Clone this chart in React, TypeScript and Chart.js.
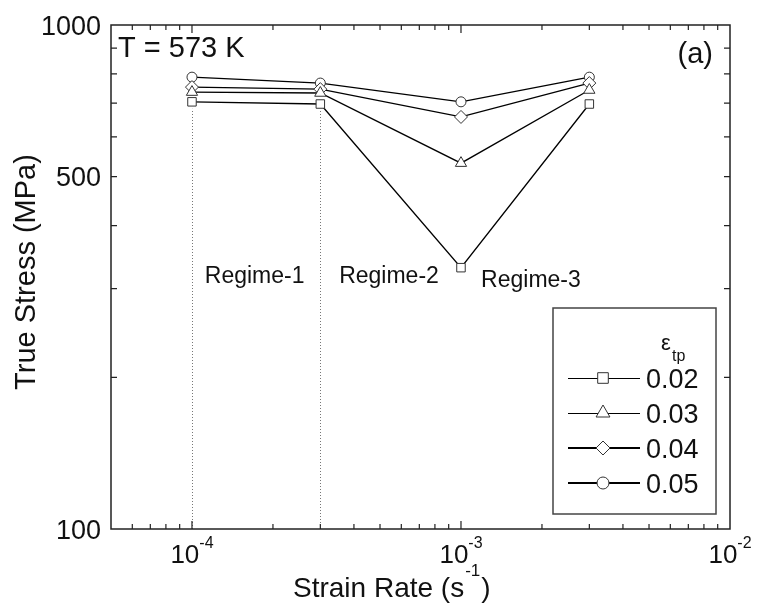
import React, { useEffect, useRef } from 'react';
import { Chart, registerables } from 'chart.js';

Chart.register(...registerables);

const strainRates = [1e-4, 3e-4, 1e-3, 3e-3];
const stress002 = [704, 697, 330, 697];
const stress003 = [736, 733, 532, 743];
const stress004 = [753, 746, 657, 767];
const stress005 = [788, 767, 704, 788];
const seriesLabels = ['0.02', '0.03', '0.04', '0.05'];
const seriesStyles = ['rect', 'triangle', 'rectRot', 'circle'];
const seriesRadii = [6, 6.5, 6.5, 5];
const xMajorExponents = [-4, -3, -2];
const yTickLabels = [100, 500, 1000];
const regimeBoundaries = [1e-4, 3e-4];
const regimeLabels = ['Regime-1', 'Regime-2', 'Regime-3'];
const regimeAnchors = [1.71e-4, 5.4e-4, 1.82e-3];
const regimeLevels = [283, 283, 287];

const FF = '"Liberation Sans", Arial, Helvetica, sans-serif';

function drawMarker(ctx: CanvasRenderingContext2D, style: string, x: number, y: number, r: number) {
  ctx.beginPath();
  if (style === 'rect') {
    const s = Math.SQRT1_2 * r;
    ctx.rect(x - s, y - s, 2 * s, 2 * s);
  } else if (style === 'triangle') {
    let rad = 0;
    ctx.moveTo(x + Math.sin(rad) * r, y - Math.cos(rad) * r);
    rad += (2 * Math.PI) / 3;
    ctx.lineTo(x + Math.sin(rad) * r, y - Math.cos(rad) * r);
    rad += (2 * Math.PI) / 3;
    ctx.lineTo(x + Math.sin(rad) * r, y - Math.cos(rad) * r);
    ctx.closePath();
  } else if (style === 'rectRot') {
    ctx.moveTo(x - r, y);
    ctx.lineTo(x, y - r);
    ctx.lineTo(x + r, y);
    ctx.lineTo(x, y + r);
    ctx.closePath();
  } else {
    ctx.arc(x, y, r, 0, Math.PI * 2);
  }
  ctx.fillStyle = '#fff';
  ctx.fill();
  ctx.strokeStyle = '#333';
  ctx.lineWidth = 1;
  ctx.stroke();
}

const decorPlugin = {
  id: 'decor',
  beforeDatasetsDraw(chart: any) {
    const ctx = chart.ctx as CanvasRenderingContext2D;
    const xs = chart.scales.x;
    const ys = chart.scales.y;
    const area = chart.chartArea;
    ctx.save();
    ctx.strokeStyle = '#777';
    ctx.lineWidth = 1;
    ctx.setLineDash([1, 2]);
    regimeBoundaries.forEach((v) => {
      const i = strainRates.indexOf(v);
      const px = Math.round(xs.getPixelForValue(v)) + 0.5;
      const top = ys.getPixelForValue(stress002[i]) + 7;
      ctx.beginPath();
      ctx.moveTo(px, area.bottom);
      ctx.lineTo(px, top);
      ctx.stroke();
    });
    ctx.restore();
  },
  afterDraw(chart: any) {
    const ctx = chart.ctx as CanvasRenderingContext2D;
    const xs = chart.scales.x;
    const ys = chart.scales.y;
    const a = chart.chartArea;
    ctx.save();

    // frame
    ctx.strokeStyle = '#222';
    ctx.lineWidth = 1.5;
    ctx.strokeRect(a.left, a.top, a.right - a.left, a.bottom - a.top);

    // x ticks (inside, top & bottom)
    ctx.lineWidth = 1.2;
    for (let e = -5; e <= -2; e++) {
      for (let k = 1; k <= 9; k++) {
        const v = k * Math.pow(10, e);
        if (v <= 5.01e-5 || v >= 0.99e-2) continue;
        const px = xs.getPixelForValue(v);
        const len = k === 1 ? 8 : 5;
        ctx.beginPath();
        ctx.moveTo(px, a.bottom);
        ctx.lineTo(px, a.bottom - len);
        ctx.moveTo(px, a.top);
        ctx.lineTo(px, a.top + len);
        ctx.stroke();
      }
    }
    // y ticks (inside, left & right)
    for (let k = 2; k <= 9; k++) {
      const v = k * 100;
      const py = ys.getPixelForValue(v);
      const len = 6;
      ctx.beginPath();
      ctx.moveTo(a.left, py);
      ctx.lineTo(a.left + len, py);
      ctx.moveTo(a.right, py);
      ctx.lineTo(a.right - len, py);
      ctx.stroke();
    }

    ctx.fillStyle = '#111';
    // y tick labels
    ctx.font = `27px ${FF}`;
    ctx.textAlign = 'right';
    ctx.textBaseline = 'alphabetic';
    yTickLabels.forEach((v) => {
      const py = ys.getPixelForValue(v);
      ctx.fillText(String(v), a.left - 10, py + 9.5);
    });

    // x tick labels with superscripts
    xMajorExponents.forEach((e) => {
      const px = xs.getPixelForValue(Math.pow(10, e));
      ctx.font = `26px ${FF}`;
      const w1 = ctx.measureText('10').width;
      ctx.font = `16px ${FF}`;
      const sup = String(e);
      const w2 = ctx.measureText(sup).width;
      const start = px - (w1 + w2) / 2;
      ctx.textAlign = 'left';
      ctx.font = `26px ${FF}`;
      ctx.fillText('10', start, a.bottom + 34);
      ctx.font = `16px ${FF}`;
      ctx.fillText(sup, start + w1, a.bottom + 19);
    });

    // x title
    ctx.textAlign = 'left';
    ctx.font = `28px ${FF}`;
    const t1 = 'Strain Rate (s';
    let cx = 293;
    ctx.fillText(t1, cx, 597);
    cx += ctx.measureText(t1).width + 1;
    ctx.font = `17px ${FF}`;
    ctx.fillText('-1', cx, 576);
    cx += ctx.measureText('-1').width + 1;
    ctx.font = `28px ${FF}`;
    ctx.fillText(')', cx, 597);

    // y title
    ctx.save();
    ctx.translate(27, 272);
    ctx.rotate(-Math.PI / 2);
    ctx.textAlign = 'center';
    ctx.textBaseline = 'middle';
    ctx.font = `29px ${FF}`;
    ctx.fillText('True Stress (MPa)', 0, 0);
    ctx.restore();

    // annotations
    ctx.textBaseline = 'alphabetic';
    ctx.font = `29px ${FF}`;
    ctx.textAlign = 'left';
    ctx.fillText('T = 573 K', a.left + 7, 57);
    ctx.textAlign = 'right';
    ctx.fillText('(a)', a.right - 17, 63);

    ctx.font = `23px ${FF}`;
    ctx.textAlign = 'center';
    regimeLabels.forEach((t, i) => {
      ctx.fillText(t, xs.getPixelForValue(regimeAnchors[i]), regimeLevels[i]);
    });

    // legend
    const lx = 553, ly = 308, lw = 163, lh = 206;
    ctx.strokeStyle = '#444';
    ctx.lineWidth = 1.5;
    ctx.strokeRect(lx, ly, lw, lh);
    ctx.textAlign = 'left';
    ctx.font = `22px ${FF}`;
    ctx.fillText('\u03B5', 661, 350);
    ctx.font = `16px ${FF}`;
    ctx.fillText('tp', 672, 361);
    const rows = [378, 413, 448, 483];
    const legendR = [7.5, 8, 7, 6];
    seriesLabels.forEach((lab, i) => {
      const y = Math.round(rows[i]) + 0.5;
      ctx.strokeStyle = '#000';
      ctx.lineWidth = i < 2 ? 1 : 2;
      ctx.beginPath();
      ctx.moveTo(568, i < 2 ? y : rows[i]);
      ctx.lineTo(640, i < 2 ? y : rows[i]);
      ctx.stroke();
      drawMarker(ctx, seriesStyles[i], 603, rows[i], legendR[i]);
      ctx.fillStyle = '#111';
      ctx.font = `27px ${FF}`;
      ctx.fillText(lab, 646, rows[i] + 10);
    });

    ctx.restore();
  },
};

export default function App() {
  const ref = useRef<HTMLCanvasElement | null>(null);
  useEffect(() => {
    document.body.style.margin = '0';
    const canvas = ref.current;
    if (!canvas) return;
    const allSeries = [stress002, stress003, stress004, stress005];
    const chart = new Chart(canvas, {
      type: 'scatter',
      data: {
        datasets: allSeries.map((s, i) => ({
          label: seriesLabels[i],
          data: strainRates.map((x, j) => ({ x, y: s[j] })),
          showLine: true,
          borderColor: '#000',
          borderWidth: 1.3,
          pointStyle: seriesStyles[i] as any,
          pointRadius: seriesRadii[i],
          pointBackgroundColor: '#fff',
          pointBorderColor: '#333',
          pointBorderWidth: 1,
          fill: false,
        })),
      },
      options: {
        animation: false,
        responsive: false,
        events: [],
        layout: { padding: { top: 25, right: 27, left: 0, bottom: 0 } },
        plugins: { legend: { display: false }, tooltip: { enabled: false } },
        scales: {
          x: {
            type: 'logarithmic',
            min: 5e-5,
            max: 1e-2,
            ticks: { display: false },
            grid: { display: false, drawTicks: false },
            border: { display: false },
            afterFit: (s: any) => { s.height = 79; },
          },
          y: {
            type: 'logarithmic',
            min: 100,
            max: 1000,
            ticks: { display: false },
            grid: { display: false, drawTicks: false },
            border: { display: false },
            afterFit: (s: any) => { s.width = 111; },
          },
        },
      },
      plugins: [decorPlugin],
    });
    return () => chart.destroy();
  }, []);
  return (
    <div style={{ width: 757, height: 608, background: '#fff' }}>
      <canvas ref={ref} width={757} height={608} style={{ display: 'block', width: 757, height: 608 }} />
    </div>
  );
}
